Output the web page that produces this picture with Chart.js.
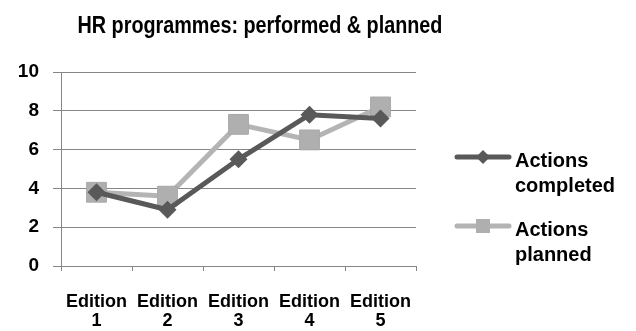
<!DOCTYPE html>
<html>
<head>
<meta charset="utf-8">
<script src="https://cdn.jsdelivr.net/npm/chart.js@4"></script>
<style>
html,body{margin:0;padding:0;background:#fff;}
#wrap{position:relative;width:636px;height:331px;}
</style>
</head>
<body>
<div id="wrap"><canvas id="c" width="636" height="331"></canvas></div>
<script>
const titleText = "HR programmes: performed & planned";
const categories = [["Edition","1"],["Edition","2"],["Edition","3"],["Edition","4"],["Edition","5"]];
const seriesNames = [["Actions","completed"],["Actions","planned"]];
const completed = [3.8, 2.9, 5.5, 7.8, 7.6];
const planned = [3.8, 3.6, 7.3, 6.5, 8.2];
const yTicks = [0, 2, 4, 6, 8, 10];

const FONT = "'Liberation Sans', Arial, sans-serif";
const DARK = "#595959";
const LIGHT = "#b4b4b4";
const GRID = "#868686";

const titlePlugin = {
  id: 'customTitle',
  afterDraw(chart) {
    const ctx = chart.ctx;
    ctx.save();
    ctx.font = "bold 23px " + FONT;
    ctx.fillStyle = "#000";
    ctx.textAlign = "center";
    ctx.textBaseline = "alphabetic";
    ctx.translate(260, 33);
    ctx.scale(0.86, 1);
    ctx.fillText(titleText, 0, 0);
    ctx.restore();
  }
};

const legendPlugin = {
  id: 'customLegend',
  afterDraw(chart) {
    const ctx = chart.ctx;
    const items = chart.data.datasets;
    const ys = [157, 226];
    items.forEach((ds, i) => {
      const y = ys[i];
      ctx.save();
      ctx.strokeStyle = ds.borderColor;
      ctx.lineWidth = 5;
      ctx.lineCap = 'round';
      ctx.beginPath();
      ctx.moveTo(457, y);
      ctx.lineTo(509, y);
      ctx.stroke();
      ctx.fillStyle = ds.pointBackgroundColor;
      if (ds.pointStyle === 'rectRot') {
        ctx.beginPath();
        ctx.moveTo(483, y - 7); ctx.lineTo(490, y); ctx.lineTo(483, y + 7); ctx.lineTo(476, y);
        ctx.closePath(); ctx.fill();
      } else {
        ctx.fillRect(476, y - 7, 14, 14);
      }
      ctx.fillStyle = "#000";
      ctx.font = "bold 20px " + FONT;
      ctx.textAlign = "left";
      ctx.textBaseline = "alphabetic";
      const lines = ds.label;
      lines.forEach((t, k) => ctx.fillText(t, 515, y + 10 + k * 25));
      ctx.restore();
    });
  }
};

new Chart(document.getElementById('c'), {
  type: 'line',
  data: {
    labels: categories,
    datasets: [
      {
        label: seriesNames[0],
        data: completed,
        borderColor: DARK,
        backgroundColor: DARK,
        pointBackgroundColor: DARK,
        pointBorderColor: DARK,
        borderWidth: 5,
        pointStyle: 'rectRot',
        pointRadius: 9,
        pointBorderWidth: 0,
        tension: 0
      },
      {
        label: seriesNames[1],
        data: planned,
        borderColor: LIGHT,
        backgroundColor: "#afafaf",
        pointBackgroundColor: "#afafaf",
        pointBorderColor: "#a8a8a8",
        borderWidth: 5,
        pointStyle: 'rect',
        pointRadius: 14,
        pointBorderWidth: 1,
        tension: 0
      }
    ]
  },
  options: {
    responsive: false,
    animation: false,
    events: [],
    layout: { padding: { top: 72, right: 220, bottom: 0, left: 0 } },
    plugins: { legend: { display: false }, title: { display: false }, tooltip: { enabled: false } },
    scales: {
      x: {
        offset: true,
        grid: { offset: true, drawOnChartArea: false, drawTicks: true, tickLength: 5, color: GRID, lineWidth: 1 },
        border: { display: true, color: GRID, width: 1 },
        ticks: { color: "#000", font: { family: FONT, size: 18, weight: 'bold', lineHeight: 1.08 }, padding: 21, maxRotation: 0, autoSkip: false },
        afterFit(s) { s.height = 65; }
      },
      y: {
        min: 0, max: 10,
        afterBuildTicks(s) { s.ticks = yTicks.map(v => ({ value: v })); },
        grid: { color: GRID, lineWidth: 1, tickLength: 8 },
        border: { display: true, color: GRID, width: 1 },
        ticks: { color: "#000", font: { family: FONT, size: 19, weight: 'bold' }, padding: 14 },
        afterFit(s) { s.width = 61; }
      }
    }
  },
  plugins: [titlePlugin, legendPlugin]
});
</script>
</body>
</html>
